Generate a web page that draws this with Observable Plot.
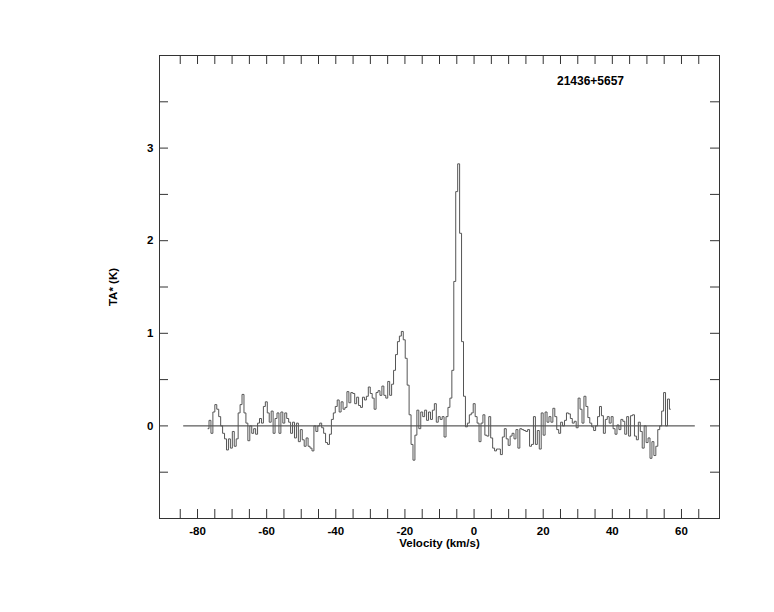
<!DOCTYPE html>
<html>
<head>
<meta charset="utf-8">
<script src="https://cdn.jsdelivr.net/npm/d3@7"></script>
<script src="https://cdn.jsdelivr.net/npm/@observablehq/plot@0.6"></script>
<style>
  html, body { margin: 0; padding: 0; background: #fff; }
  #chart { width: 774px; height: 612px; }
</style>
</head>
<body>
<div id="chart"></div>
<script>
// ---- data ----
const sourceName = "21436+5657";
const xLabel = "Velocity (km/s)";
const yLabel = "TA* (K)";
const firstChannelVelocity = -76.96;   // km/s, centre of first channel
const channelWidth = 0.562;            // km/s
const antennaTemp = [
  -0.03, 0.06, -0.08, 0.15, 0.23, 0.18, 0.10, 0.0, -0.08, -0.14,
  -0.26, -0.14, -0.24, -0.06, -0.22, -0.14, 0.14, 0.23, 0.34, 0.14,
  0.03, -0.16, 0.0, -0.08, -0.03, -0.09, 0.03, 0.08, 0.03, 0.21,
  0.26, 0.14, 0.04, 0.16, -0.08, 0.08, 0.14, -0.08, 0.15, 0.03,
  0.14, 0.08, 0.04, -0.08, 0.04, -0.13, 0.03, -0.17, -0.04, -0.15,
  -0.22, -0.13, -0.22, -0.24, -0.27, 0.0, -0.06, 0.0, 0.03, -0.02,
  -0.08, -0.18, -0.2, -0.09, 0.07, 0.14, 0.21, 0.28,
  0.15, 0.26, 0.18, 0.2, 0.37, 0.25, 0.36, 0.35, 0.24, 0.31,
  0.22, 0.2, 0.31, 0.28, 0.32, 0.42, 0.35, 0.3, 0.18, 0.36,
  0.38, 0.33, 0.43, 0.33, 0.3, 0.48, 0.33, 0.45, 0.6, 0.77,
  0.91, 0.97, 1.02, 0.93, 0.73, 0.44, 0.12, -0.2, -0.37, -0.1,
  0.17, -0.03, 0.15, 0.1, 0.17, 0.06, 0.15, 0.07, 0.17, 0.24,
  0.04, 0.1, 0.07, 0.1, -0.12,
  0.1, 0.2, 0.3, 0.6, 1.56, 2.53, 2.83, 2.08, 0.91, 0.32, -0.01, 0.03, 0.12,
  0.14, 0.24, 0.1, 0.03, -0.17, 0.03, 0.12, -0.1, -0.11, 0.1,
  -0.13, -0.24, -0.27, -0.25, -0.25, -0.31, -0.12, -0.03, -0.14, -0.21,
  -0.11, -0.08, -0.14, -0.04, -0.24, -0.03, -0.04, -0.05, -0.06, -0.04,
  -0.22, -0.2, 0.1, -0.2, -0.05, -0.25, 0.14, -0.1, 0.15, 0.04,
  0.1, 0.04, 0.19, 0.1, -0.04, -0.08, 0.04, 0.0, 0.06, 0.14,
  0.13, 0.08, 0.03, 0.05, -0.02, 0.3, 0.18, 0.03, 0.32, 0.21,
  0.09, 0.03, -0.01, -0.05, 0.0, 0.1, 0.21, 0.11, -0.08, 0.07,
  0.1, 0.03, 0.1, -0.03, -0.09, 0.01, -0.04, 0.07, 0.05, -0.09,
  0.1, -0.11, 0.11, 0.12, -0.11, -0.15, 0.04, -0.06, -0.24, 0.0,
  -0.18, -0.13, -0.35, -0.17, -0.32, -0.22, -0.04, 0.0, 0.16, 0.36,
  0.0, 0.29, 0.18
];
const baselineRange = [-84, 64];       // extent of the zero line (km/s)
const xDomain = [-91, 71];
const yDomain = [-1, 4];
const xMinorTicks = d3.range(-85, 66, 5);
const xMajorTicks = [-80, -60, -40, -20, 0, 20, 40, 60];
const yMinorTicks = [-0.5, 0, 0.5, 1, 1.5, 2, 2.5, 3, 3.5];
const yMajorTicks = [0, 1, 2, 3];

// ---- build table ----
const spectrum = antennaTemp.map((t, i) => ({
  v: firstChannelVelocity + i * channelWidth,
  t
}));

// ---- layout ----
const W = 774, H = 612;
const mL = 159, mR = 55, mT = 55, mB = 94;
const innerW = W - mL - mR, innerH = H - mT - mB;
const tickLen = 9;
const ink = "#333";

const chart = Plot.plot({
  width: W,
  height: H,
  marginLeft: mL,
  marginRight: mR,
  marginTop: mT,
  marginBottom: mB,
  style: {
    fontFamily: "'Liberation Sans', Arial, Helvetica, sans-serif",
    fontSize: "11.5px",
    fontWeight: "bold",
    color: "#000",
    background: "#fff"
  },
  x: {domain: xDomain},
  y: {domain: yDomain},
  marks: [
    Plot.frame({stroke: ink}),
    // inward ticks on all four sides
    Plot.tickX(xMinorTicks, {x: d => d, insetTop: innerH - tickLen, stroke: ink}),
    Plot.tickX(xMinorTicks, {x: d => d, insetBottom: innerH - tickLen, stroke: ink}),
    Plot.tickY(yMinorTicks, {y: d => d, insetRight: innerW - tickLen, stroke: ink}),
    Plot.tickY(yMinorTicks, {y: d => d, insetLeft: innerW - tickLen, stroke: ink}),
    // tick labels
    Plot.axisX(xMajorTicks, {anchor: "bottom", tickSize: 0, tickPadding: 8, label: null, tickFormat: d => String(d), fill: "#000"}),
    Plot.axisY(yMajorTicks, {anchor: "left", tickSize: 0, tickPadding: 6, label: null, tickFormat: d => String(d), fill: "#000"}),
    // zero line
    Plot.ruleY([0], {x1: baselineRange[0], x2: baselineRange[1], stroke: ink}),
    // spectrum
    Plot.line(spectrum, {x: "v", y: "t", curve: "step", stroke: "#555", strokeWidth: 1}),
    // labels
    Plot.text([xLabel], {text: d => d, frameAnchor: "bottom", textAnchor: "middle", dy: 28, fill: "#000"}),
    Plot.text([yLabel], {text: d => d, frameAnchor: "left", textAnchor: "middle", dx: -46, rotate: -90, fill: "#000"}),
    Plot.text([sourceName], {text: d => d, frameAnchor: "top-right", textAnchor: "middle", dx: -129, dy: 21, fill: "#000", fontSize: 12})
  ]
});
document.getElementById("chart").appendChild(chart);
</script>
</body>
</html>
